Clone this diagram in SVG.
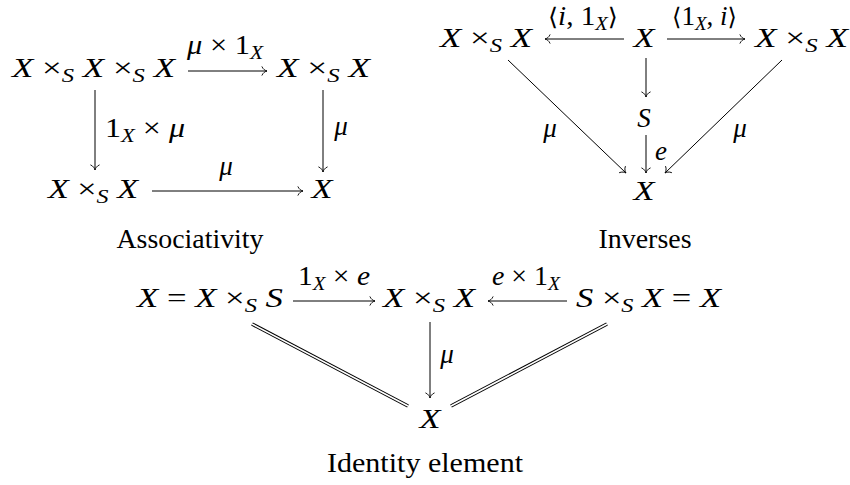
<svg xmlns="http://www.w3.org/2000/svg" width="850" height="485" viewBox="0 0 850 485">
<defs>
<marker id="ah" markerUnits="userSpaceOnUse" viewBox="-7 -6 8 12" refX="0" refY="0" markerWidth="8" markerHeight="12" orient="auto" overflow="visible">
<path d="M-5,-4.2 C-4,-1.7 -1.6,-0.4 0,0 C-1.6,0.4 -4,1.7 -5,4.2" fill="none" stroke="#000" stroke-width="0.9" stroke-linecap="round"/>
</marker>
</defs>
<rect width="850" height="485" fill="#fff"/>

<g id="connectors" fill="none">
<g stroke="#000" stroke-width="1" marker-end="url(#ah)">
<line x1="188" y1="71" x2="267" y2="71"/>
<line x1="95" y1="90" x2="95" y2="170"/>
<line x1="323" y1="90" x2="323" y2="172"/>
<line x1="152" y1="191" x2="303" y2="191"/>
<line x1="624" y1="39" x2="545" y2="39"/>
<line x1="667" y1="39" x2="745" y2="39"/>
<line x1="646" y1="58" x2="646" y2="97"/>
<line x1="646" y1="135" x2="646" y2="173"/>
<line x1="508" y1="60" x2="626" y2="173"/>
<line x1="782" y1="60" x2="665" y2="173"/>
<line x1="293" y1="301" x2="375" y2="301"/>
<line x1="567" y1="301" x2="488" y2="301"/>
<line x1="430" y1="322" x2="430" y2="398"/>
</g>
<g stroke="#000" stroke-width="3.6">
<line x1="252" y1="324" x2="408" y2="406"/>
<line x1="607" y1="324" x2="451" y2="406"/>
</g>
<g stroke="#fff" stroke-width="1.6">
<line x1="252" y1="324" x2="408" y2="406"/>
<line x1="607" y1="324" x2="451" y2="406"/>
</g>
</g>

<g id="labels">
<text font-family="Liberation Serif" font-size="27" x="187" y="54" textLength="76" lengthAdjust="spacingAndGlyphs"><tspan font-style="italic">μ</tspan> × 1<tspan font-size="19" font-style="italic" dy="5">X</tspan></text>
<text font-family="Liberation Serif" font-size="27" x="105" y="137" textLength="80" lengthAdjust="spacingAndGlyphs">1<tspan font-size="19" font-style="italic" dy="5">X</tspan><tspan dy="-5"> × </tspan><tspan font-style="italic">μ</tspan></text>
<text font-family="Liberation Serif" font-size="27" font-style="italic" text-anchor="middle" x="341" y="135">μ</text>
<text font-family="Liberation Serif" font-size="27" font-style="italic" text-anchor="middle" x="226" y="175">μ</text>
<text font-family="Liberation Serif" font-size="27" x="548" y="25" textLength="70" lengthAdjust="spacingAndGlyphs"><tspan font-family="DejaVu Sans" font-size="24">⟨</tspan><tspan font-style="italic">i</tspan>, 1<tspan font-size="19" font-style="italic" dy="5">X</tspan><tspan dy="-5" font-family="DejaVu Sans" font-size="24">⟩</tspan></text>
<text font-family="Liberation Serif" font-size="27" x="672" y="25" textLength="65" lengthAdjust="spacingAndGlyphs"><tspan font-family="DejaVu Sans" font-size="24">⟨</tspan>1<tspan font-size="19" font-style="italic" dy="5">X</tspan><tspan dy="-5">, </tspan><tspan font-style="italic">i</tspan><tspan font-family="DejaVu Sans" font-size="24">⟩</tspan></text>
<text font-family="Liberation Serif" font-size="27" font-style="italic" text-anchor="middle" x="661" y="160">e</text>
<text font-family="Liberation Serif" font-size="27" font-style="italic" text-anchor="middle" x="550" y="137">μ</text>
<text font-family="Liberation Serif" font-size="27" font-style="italic" text-anchor="middle" x="740" y="137">μ</text>
<text font-family="Liberation Serif" font-size="27" x="298" y="285" textLength="72" lengthAdjust="spacingAndGlyphs">1<tspan font-size="19" font-style="italic" dy="5">X</tspan><tspan dy="-5"> × </tspan><tspan font-style="italic">e</tspan></text>
<text font-family="Liberation Serif" font-size="27" x="492" y="285" textLength="68" lengthAdjust="spacingAndGlyphs"><tspan font-style="italic">e</tspan> × 1<tspan font-size="19" font-style="italic" dy="5">X</tspan></text>
<text font-family="Liberation Serif" font-size="27" font-style="italic" text-anchor="middle" x="447" y="363">μ</text>
</g>

<g id="assoc-xxx"><text font-family="Liberation Serif" font-size="27" x="12" y="77" textLength="163" lengthAdjust="spacingAndGlyphs"><tspan font-style="italic">X</tspan> ×<tspan font-size="19" font-style="italic" dy="5">S</tspan> <tspan font-style="italic" dy="-5">X</tspan> ×<tspan font-size="19" font-style="italic" dy="5">S</tspan> <tspan font-style="italic" dy="-5">X</tspan></text></g>
<g id="assoc-xx-top"><text font-family="Liberation Serif" font-size="27" x="277" y="77" textLength="93" lengthAdjust="spacingAndGlyphs"><tspan font-style="italic">X</tspan> ×<tspan font-size="19" font-style="italic" dy="5">S</tspan> <tspan font-style="italic" dy="-5">X</tspan></text></g>
<g id="assoc-xx-bottom"><text font-family="Liberation Serif" font-size="27" x="48" y="198" textLength="90" lengthAdjust="spacingAndGlyphs"><tspan font-style="italic">X</tspan> ×<tspan font-size="19" font-style="italic" dy="5">S</tspan> <tspan font-style="italic" dy="-5">X</tspan></text></g>
<g id="assoc-x"><text font-family="Liberation Serif" font-size="27" font-style="italic" text-anchor="middle" x="322" y="198" textLength="21" lengthAdjust="spacingAndGlyphs">X</text></g>
<g id="assoc-caption"><text font-family="Liberation Serif" font-size="27" text-anchor="middle" x="190" y="248" textLength="147" lengthAdjust="spacingAndGlyphs">Associativity</text></g>

<g id="inv-xx-left"><text font-family="Liberation Serif" font-size="27" x="440" y="47" textLength="92" lengthAdjust="spacingAndGlyphs"><tspan font-style="italic">X</tspan> ×<tspan font-size="19" font-style="italic" dy="5">S</tspan> <tspan font-style="italic" dy="-5">X</tspan></text></g>
<g id="inv-x-top"><text font-family="Liberation Serif" font-size="27" font-style="italic" text-anchor="middle" x="644" y="47" textLength="21" lengthAdjust="spacingAndGlyphs">X</text></g>
<g id="inv-xx-right"><text font-family="Liberation Serif" font-size="27" x="755" y="47" textLength="93" lengthAdjust="spacingAndGlyphs"><tspan font-style="italic">X</tspan> ×<tspan font-size="19" font-style="italic" dy="5">S</tspan> <tspan font-style="italic" dy="-5">X</tspan></text></g>
<g id="inv-s"><text font-family="Liberation Serif" font-size="27" font-style="italic" text-anchor="middle" x="644" y="127">S</text></g>
<g id="inv-x-bottom"><text font-family="Liberation Serif" font-size="27" font-style="italic" text-anchor="middle" x="644" y="200" textLength="21" lengthAdjust="spacingAndGlyphs">X</text></g>
<g id="inv-caption"><text font-family="Liberation Serif" font-size="27" text-anchor="middle" x="645" y="248" textLength="93" lengthAdjust="spacingAndGlyphs">Inverses</text></g>

<g id="id-left"><text font-family="Liberation Serif" font-size="27" x="137" y="307" textLength="146" lengthAdjust="spacingAndGlyphs"><tspan font-style="italic">X</tspan> = <tspan font-style="italic">X</tspan> ×<tspan font-size="19" font-style="italic" dy="5">S</tspan> <tspan font-style="italic" dy="-5">S</tspan></text></g>
<g id="id-middle"><text font-family="Liberation Serif" font-size="27" x="383" y="307" textLength="92" lengthAdjust="spacingAndGlyphs"><tspan font-style="italic">X</tspan> ×<tspan font-size="19" font-style="italic" dy="5">S</tspan> <tspan font-style="italic" dy="-5">X</tspan></text></g>
<g id="id-right"><text font-family="Liberation Serif" font-size="27" x="576" y="307" textLength="145" lengthAdjust="spacingAndGlyphs"><tspan font-style="italic">S</tspan> ×<tspan font-size="19" font-style="italic" dy="5">S</tspan> <tspan font-style="italic" dy="-5">X</tspan> = <tspan font-style="italic">X</tspan></text></g>
<g id="id-x"><text font-family="Liberation Serif" font-size="27" font-style="italic" text-anchor="middle" x="430" y="428" textLength="21" lengthAdjust="spacingAndGlyphs">X</text></g>
<g id="id-caption"><text font-family="Liberation Serif" font-size="27" text-anchor="middle" x="425" y="472" textLength="196" lengthAdjust="spacingAndGlyphs">Identity element</text></g>
</svg>
